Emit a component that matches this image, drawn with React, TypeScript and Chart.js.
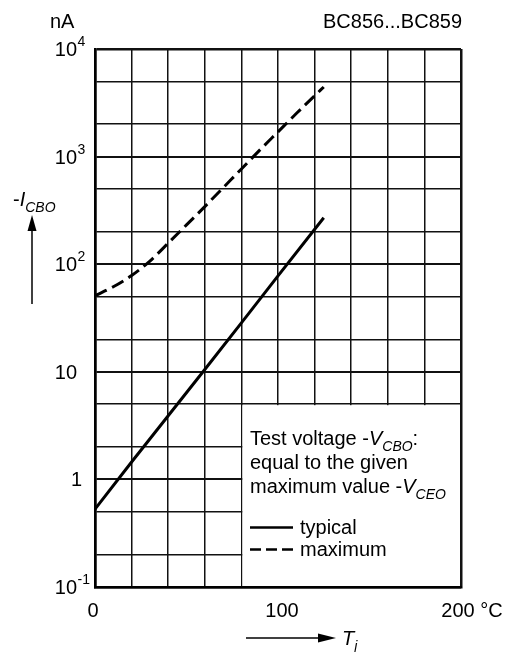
import React, { useEffect, useRef } from "react";
import { Chart, registerables } from "chart.js";

Chart.register(...registerables);

// ---- data ----
const typicalT = [0, 20, 40, 60, 80, 100, 125];
const typicalI = [0.53, 1.45, 3.9, 10.5, 28.5, 78, 270];

const maximumT = [0, 10, 20, 30, 40, 50, 60, 70, 80, 90, 100, 110, 120, 125];
const maximumI = [51, 61.7, 78.5, 107, 157, 232, 343, 513, 767, 1148, 1698, 2512, 3673, 4436];

const yGridValues = [0.1, 0.2, 0.5, 1, 2, 5, 10, 20, 50, 100, 200, 500, 1000, 2000, 5000, 10000];
const yLabelValues = [10000, 1000, 100, 10, 1, 0.1];
const yLabelBase = ["10", "10", "10", "10", "1", "10"];
const yLabelSup = ["4", "3", "2", "", "", "-1"];

const xLabelValues = [0, 100, 200];
const xLabelText = ["0", "100", "200"];

const FONT = "'Liberation Sans', Arial, Helvetica, sans-serif";

type Part = { t: string; it?: boolean; sub?: boolean; sup?: boolean };

function drawParts(ctx: CanvasRenderingContext2D, x: number, base: number, parts: Part[], size = 20) {
  let cx = x;
  ctx.textAlign = "left";
  ctx.textBaseline = "alphabetic";
  for (const p of parts) {
    const fs = p.sub || p.sup ? Math.round(size * 0.72) : size;
    ctx.font = `${p.it ? "italic " : ""}${fs}px ${FONT}`;
    const dy = p.sub ? 6 : p.sup ? -10 : 0;
    ctx.fillText(p.t, cx, base + dy);
    cx += ctx.measureText(p.t).width;
  }
  return cx;
}

const overlayPlugin = {
  id: "overlay",
  beforeDatasetsDraw(chart: any) {
    const ctx = chart.ctx as CanvasRenderingContext2D;
    const xs = chart.scales.x;
    const ys = chart.scales.y;
    // white legend box covering the grid from 80 °C to 200 °C, 0.1 to 5 nA
    const x0 = xs.getPixelForValue(80);
    const x1 = xs.getPixelForValue(200);
    const y0 = ys.getPixelForValue(5);
    const y1 = ys.getPixelForValue(0.1);
    ctx.save();
    ctx.fillStyle = "#fff";
    ctx.fillRect(x0 + 1, y0 + 1, x1 - x0 - 2, y1 - y0 - 2);
    ctx.restore();
  },
  afterDraw(chart: any) {
    const ctx = chart.ctx as CanvasRenderingContext2D;
    const xs = chart.scales.x;
    const ys = chart.scales.y;
    ctx.save();
    ctx.fillStyle = "#000";
    ctx.strokeStyle = "#000";

    // y tick labels
    yLabelValues.forEach((v, i) => {
      const py = ys.getPixelForValue(v);
      ctx.font = `20px ${FONT}`;
      ctx.textBaseline = "alphabetic";
      const base = yLabelBase[i];
      const w = ctx.measureText(base).width;
      const right = base === "1" ? 82 : 77;
      ctx.textAlign = "left";
      ctx.fillText(base, right - w, py + 7);
      if (yLabelSup[i]) {
        ctx.font = `14px ${FONT}`;
        ctx.fillText(yLabelSup[i], right + 0.5, py - 3);
      }
    });

    // x tick labels
    const xOff = [-2, 4, -3];
    xLabelValues.forEach((v, i) => {
      const px = xs.getPixelForValue(v) + xOff[i];
      ctx.font = `20px ${FONT}`;
      ctx.textBaseline = "alphabetic";
      const w = ctx.measureText(xLabelText[i]).width;
      ctx.textAlign = "left";
      const txt = i === 2 ? xLabelText[i] + " °C" : xLabelText[i];
      ctx.fillText(txt, px - w / 2, 617);
    });

    // top labels
    ctx.font = `20px ${FONT}`;
    ctx.textAlign = "left";
    ctx.fillText("nA", 50, 28);
    ctx.textAlign = "right";
    ctx.fillText("BC856...BC859", 462, 28);

    // y title
    drawParts(ctx, 13, 206, [{ t: "-" }, { t: "I", it: true }, { t: "CBO", it: true, sub: true }], 20);
    // y arrow
    ctx.lineWidth = 1.5;
    ctx.beginPath();
    ctx.moveTo(32, 304);
    ctx.lineTo(32, 228);
    ctx.stroke();
    ctx.beginPath();
    ctx.moveTo(32, 215);
    ctx.lineTo(36.5, 231);
    ctx.lineTo(27.5, 231);
    ctx.closePath();
    ctx.fill();

    // x arrow
    ctx.beginPath();
    ctx.moveTo(246, 638);
    ctx.lineTo(322, 638);
    ctx.stroke();
    ctx.beginPath();
    ctx.moveTo(336, 638);
    ctx.lineTo(318, 633.5);
    ctx.lineTo(318, 642.5);
    ctx.closePath();
    ctx.fill();
    drawParts(ctx, 342, 645, [{ t: "T", it: true }, { t: "j", it: true, sub: true }], 20);

    // legend box text
    drawParts(ctx, 250, 445, [{ t: "Test voltage -" }, { t: "V", it: true }, { t: "CBO", it: true, sub: true }, { t: ":" }], 20);
    drawParts(ctx, 250, 469, [{ t: "equal to the given" }], 20);
    drawParts(ctx, 250, 493, [{ t: "maximum value -" }, { t: "V", it: true }, { t: "CEO", it: true, sub: true }], 20);

    ctx.lineWidth = 2.5;
    ctx.setLineDash([]);
    ctx.beginPath();
    ctx.moveTo(250, 527.5);
    ctx.lineTo(293, 527.5);
    ctx.stroke();
    ctx.setLineDash([11, 5]);
    ctx.beginPath();
    ctx.moveTo(250, 549.5);
    ctx.lineTo(293, 549.5);
    ctx.stroke();
    ctx.setLineDash([]);
    drawParts(ctx, 300, 534, [{ t: "typical" }], 20);
    drawParts(ctx, 300, 556, [{ t: "maximum" }], 20);

    ctx.restore();
  },
};

export default function App() {
  const ref = useRef<HTMLCanvasElement | null>(null);
  useEffect(() => {
    if (!ref.current) return;
    const chart = new Chart(ref.current, {
      type: "line",
      data: {
        datasets: [
          {
            label: "typical",
            data: typicalT.map((t, i) => ({ x: t, y: typicalI[i] })),
            borderColor: "#000",
            borderWidth: 3,
            pointRadius: 0,
            tension: 0,
            fill: false,
          },
          {
            label: "maximum",
            data: maximumT.map((t, i) => ({ x: t, y: maximumI[i] })),
            borderColor: "#000",
            borderWidth: 3,
            borderDash: [13, 6],
            pointRadius: 0,
            tension: 0.4,
            cubicInterpolationMode: "monotone",
            fill: false,
          },
        ],
      },
      options: {
        animation: false,
        responsive: false,
        maintainAspectRatio: false,
        events: [],
        layout: { padding: { left: 95, right: 49, top: 49, bottom: 65 } },
        plugins: { legend: { display: false }, tooltip: { enabled: false } },
        scales: {
          x: {
            type: "linear",
            min: 0,
            max: 200,
            ticks: { display: false, stepSize: 20 },
            grid: {
              drawTicks: false,
              color: "#111",
              lineWidth: (c: any) => (c.tick && (c.tick.value === 200 || c.tick.value === 0) ? 2.5 : 1.5),
            },
            border: { display: true, color: "#000", width: 2.5 },
          },
          y: {
            type: "logarithmic",
            min: 0.1,
            max: 10000,
            afterBuildTicks: (scale: any) => {
              scale.ticks = yGridValues.map((v) => ({ value: v }));
            },
            ticks: { display: false },
            grid: {
              drawTicks: false,
              color: "#111",
              lineWidth: (c: any) => {
                const v = c.tick ? c.tick.value : 0;
                if (v === 10000 || v === 0.1) return 2.5;
                const l = Math.log10(v);
                return Math.abs(l - Math.round(l)) < 1e-6 ? 2 : 1.5;
              },
            },
            border: { display: true, color: "#000", width: 2.5 },
          },
        },
      },
      plugins: [overlayPlugin],
    } as any);
    return () => chart.destroy();
  }, []);
  return (
    <div style={{ position: "fixed", left: 0, top: 0, width: 510, height: 652, background: "#fff" }}>
      <canvas ref={ref} width={510} height={652} style={{ display: "block", width: 510, height: 652 }} />
    </div>
  );
}
